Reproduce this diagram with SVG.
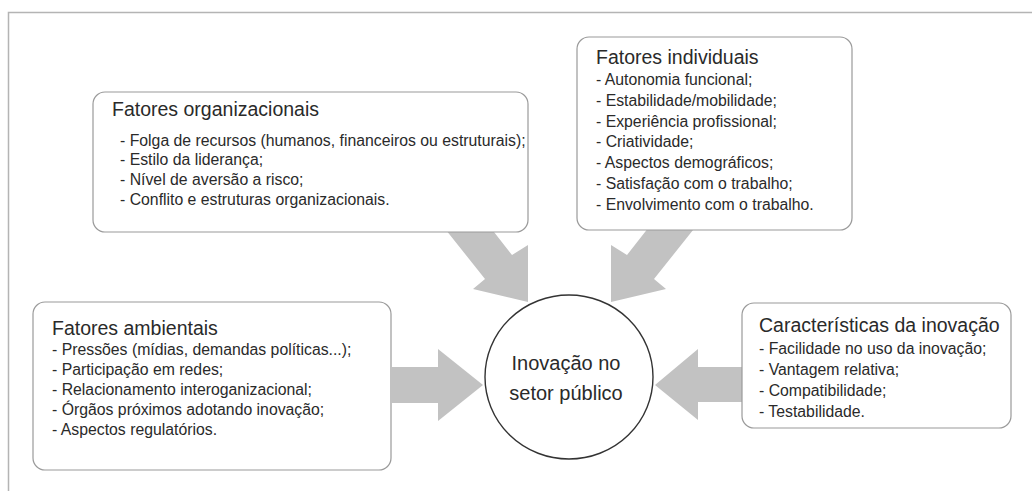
<svg xmlns="http://www.w3.org/2000/svg" width="1032" height="491" viewBox="0 0 1032 491">
<style>
.box{fill:#fff;stroke:#9a9a9a;stroke-width:1.2}
.arrow{fill:#c2c2c2;stroke:none}
.title{font-family:"Liberation Sans",Arial,sans-serif;font-size:19.5px;fill:#2a2a2a}
.item{font-family:"Liberation Sans",Arial,sans-serif;font-size:15.8px;fill:#2a2a2a}
.center{font-family:"Liberation Sans",Arial,sans-serif;font-size:20px;fill:#2a2a2a;text-anchor:middle}
</style>
<rect width="1032" height="491" fill="#fff"/>
<path d="M8.5 491 V12.5 H1032" fill="none" stroke="#b4b4b4" stroke-width="1.5"/>
<g id="connectors">
<polygon class="arrow" points="488.5,225 512,255 528,245 528,302 473,289 485,279 442,225"/>
<polygon class="arrow" points="650.5,225 627,255 611,245 611,302 666,289 654,279 697,225"/>
<polygon class="arrow" points="392,367 438,367 438,349 483,385 438,421 438,403 392,403"/>
<polygon class="arrow" points="742,367 698,367 698,349 655,385 698,420 698,402 742,402"/>
</g>
<g id="org">
<rect class="box" x="93" y="92" width="435" height="140" rx="12"/>
<text class="title" x="112" y="115.5">Fatores organizacionais</text>
<text class="item" x="120" y="145.5">- Folga de recursos (humanos, financeiros ou estruturais);</text>
<text class="item" x="120" y="165.3">- Estilo da liderança;</text>
<text class="item" x="120" y="185.1">- Nível de aversão a risco;</text>
<text class="item" x="120" y="204.9">- Conflito e estruturas organizacionais.</text>
</g>
<g id="individual">
<rect class="box" x="577" y="37" width="275" height="193" rx="12"/>
<text class="title" x="596" y="63.5">Fatores individuais</text>
<text class="item" x="596" y="85">- Autonomia funcional;</text>
<text class="item" x="596" y="105.8">- Estabilidade/mobilidade;</text>
<text class="item" x="596" y="126.6">- Experiência profissional;</text>
<text class="item" x="596" y="147.4">- Criatividade;</text>
<text class="item" x="596" y="168.2">- Aspectos demográficos;</text>
<text class="item" x="596" y="189">- Satisfação com o trabalho;</text>
<text class="item" x="596" y="209.8">- Envolvimento com o trabalho.</text>
</g>
<g id="ambientais">
<rect class="box" x="33" y="302" width="358" height="168" rx="12"/>
<text class="title" x="52" y="334.5">Fatores ambientais</text>
<text class="item" x="52" y="355">- Pressões (mídias, demandas políticas...);</text>
<text class="item" x="52" y="375">- Participação em redes;</text>
<text class="item" x="52" y="395">- Relacionamento interoganizacional;</text>
<text class="item" x="52" y="415">- Órgãos próximos adotando inovação;</text>
<text class="item" x="52" y="435">- Aspectos regulatórios.</text>
</g>
<g id="caracteristicas">
<rect class="box" x="742" y="303" width="269" height="125" rx="12"/>
<text class="title" x="759" y="332">Características da inovação</text>
<text class="item" x="759" y="353.5">- Facilidade no uso da inovação;</text>
<text class="item" x="759" y="374.5">- Vantagem relativa;</text>
<text class="item" x="759" y="395.5">- Compatibilidade;</text>
<text class="item" x="759" y="416.5">- Testabilidade.</text>
</g>
<g id="inovacao">
<ellipse cx="569" cy="377" rx="84" ry="82" fill="#fff" stroke="#333" stroke-width="1.4"/>
<text class="center" x="566" y="370">Inovação no</text>
<text class="center" x="566" y="400">setor público</text>
</g>
</svg>
